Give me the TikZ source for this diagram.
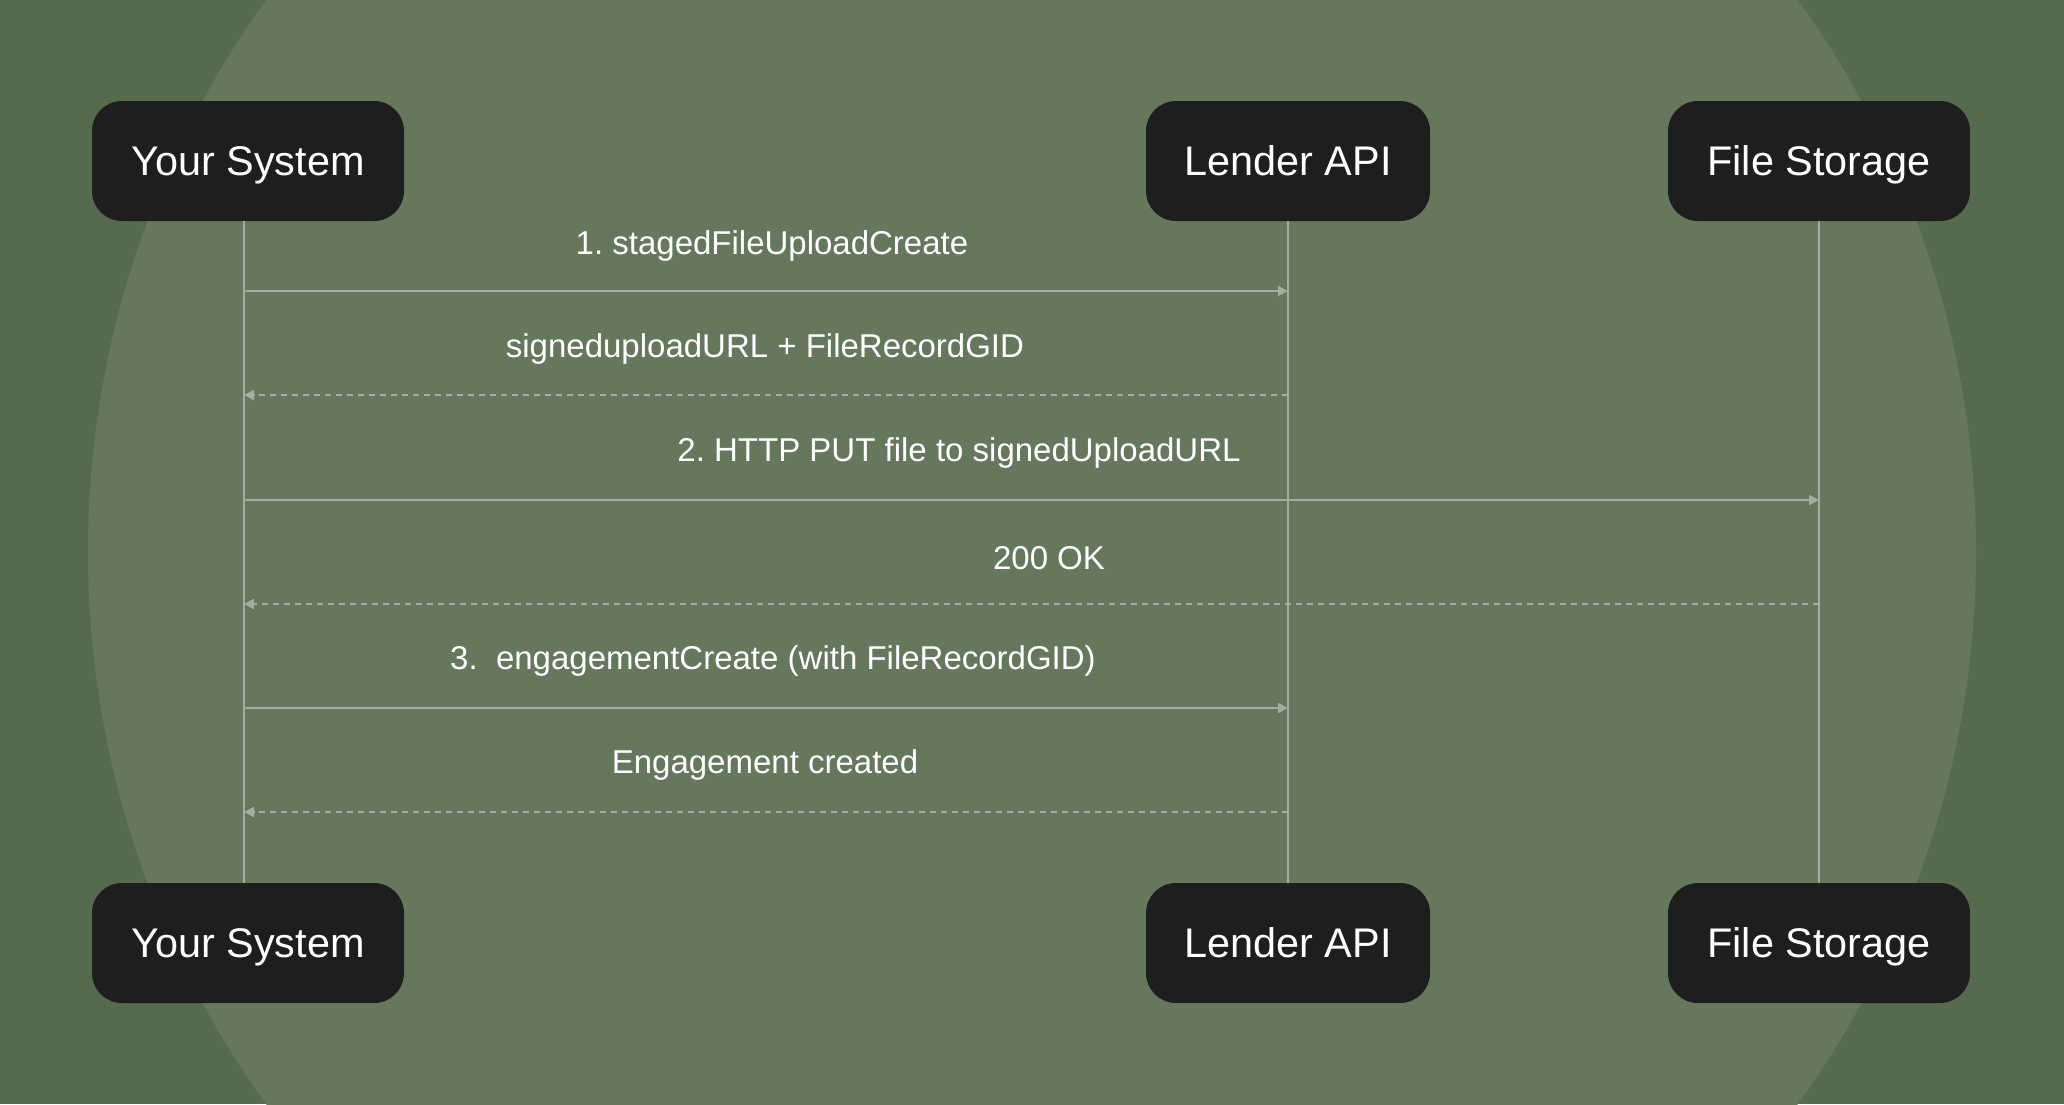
\documentclass[tikz,border=0pt]{standalone}
\usepackage{fontspec}
\setmainfont{Liberation Sans}
\usetikzlibrary{arrows.meta}
\frenchspacing
\definecolor{bgdark}{HTML}{566B4E}
\definecolor{bglight}{HTML}{65775D}
\definecolor{boxfill}{HTML}{1E1E1E}
\definecolor{wire}{HTML}{A3AE9E}

\begin{document}
\begin{tikzpicture}[x=0.5pt, y=-0.5pt,
    actor/.style={rectangle, rounded corners=15pt, fill=boxfill, text=white,
        font=\fontsize{20.7}{24}\selectfont, minimum height=60pt, inner sep=0pt,
        text height=14.8pt, text depth=0pt},
    life/.style={draw=wire, line width=0.75pt},
    call/.style={draw=wire, line width=1pt, -{Triangle[length=5pt, width=5pt]}},
    reply/.style={call, dash pattern=on 3pt off 2.5pt},
    lbl/.style={text=white, font=\fontsize{16.5}{20}\selectfont, inner sep=0pt}]
        % background
        \fill[bgdark] (0,0) rectangle (2064,1104);
        \begin{scope}
            \clip (0,0) rectangle (2064,1104);
            \fill[bglight] (1032,552) circle[radius=944];
        \end{scope}
        \useasboundingbox (0,0) rectangle (2064,1104);

        % participants
        \node[actor, minimum width=156pt] (sys) at (248,161) {Your System};
        \node[actor, minimum width=142pt] (api) at (1288,161) {Lender API};
        \node[actor, minimum width=151pt] (store) at (1819,161) {File Storage};
        \node[actor, minimum width=156pt] (sysB) at (248,943) {Your System};
        \node[actor, minimum width=142pt] (apiB) at (1288,943) {Lender API};
        \node[actor, minimum width=151pt] (storeB) at (1819,943) {File Storage};

        % lifelines (the left one sits a little off its box centre)
        \coordinate (sysT) at ([xshift=-2pt]sys.south);
        \coordinate (sysE) at ([xshift=-2pt]sysB.north);
        \draw[life] (sysT) -- (sysE);
        \draw[life] (api) -- (apiB);
        \draw[life] (store) -- (storeB);

        % messages
        \coordinate (s1) at (sysT |- 0,291);
        \coordinate (a1) at (api |- 0,291);
        \coordinate (s2) at (sysT |- 0,395);
        \coordinate (a2) at (api |- 0,395);
        \coordinate (s3) at (sysT |- 0,500);
        \coordinate (f3) at (store |- 0,500);
        \coordinate (s4) at (sysT |- 0,604);
        \coordinate (f4) at (store |- 0,604);
        \coordinate (s5) at (sysT |- 0,708);
        \coordinate (a5) at (api |- 0,708);
        \coordinate (s6) at (sysT |- 0,812);
        \coordinate (a6) at (api |- 0,812);

        \draw[call] (s1) -- (a1);
        \draw[reply] (a2) -- (s2);
        \draw[call] (s3) -- (f3);
        \draw[reply] (f4) -- (s4);
        \draw[call] (s5) -- (a5);
        \draw[reply] (a6) -- (s6);

        \node[lbl] (l1) at (772,246) {1. stagedFileUploadCreate};
        \node[lbl] (l2) at (765,349) {signeduploadURL + FileRecordGID};
        \node[lbl] (l3) at (959,453) {2. HTTP PUT file to signedUploadURL};
        \node[lbl] (l4) at (1049,558) {200 OK};
        \node[lbl] (l5) at (773,661) {3.~~engagementCreate (with FileRecordGID)};
        \node[lbl] (l6) at (765,765) {Engagement created};
\end{tikzpicture}
\end{document}
